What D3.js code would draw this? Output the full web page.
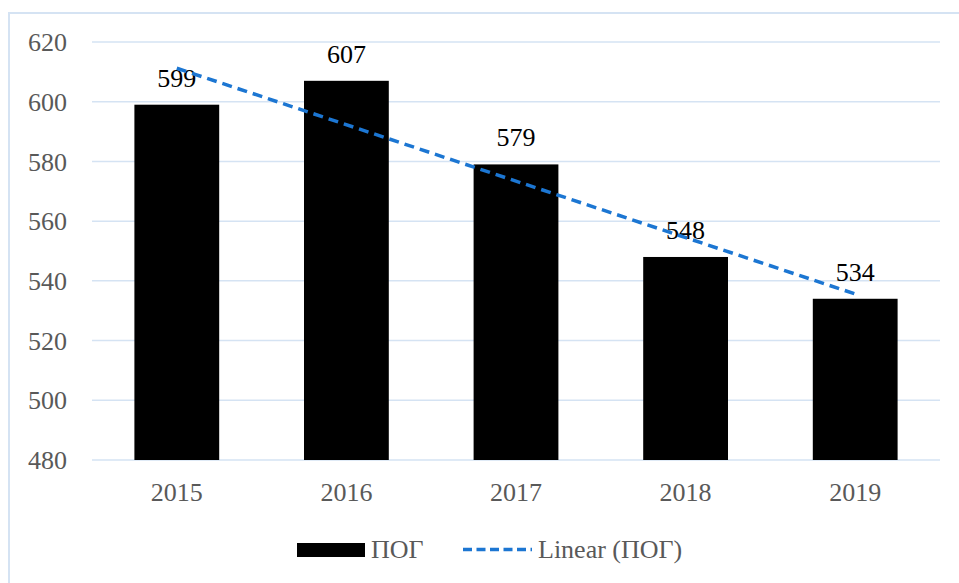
<!DOCTYPE html>
<html>
<head>
<meta charset="utf-8">
<script src="https://cdn.jsdelivr.net/npm/d3@7/dist/d3.min.js"></script>
<style>
  html, body { margin: 0; padding: 0; background: #ffffff; }
  svg { display: block; }
</style>
</head>
<body>
<svg id="chart" width="959" height="583"></svg>
<script>
const categories = ["2015", "2016", "2017", "2018", "2019"];
const values = [599, 607, 579, 548, 534];
const yTicks = [480, 500, 520, 540, 560, 580, 600, 620];
const seriesName = "ПОГ";
const trendName = "Linear (ПОГ)";

const svg = d3.select("#chart");
const W = 959, H = 583;
const plot = { left: 92, right: 940, top: 42, bottom: 460 };
const font = '"Liberation Serif", "Times New Roman", serif';
const gridColor = "#d5e3f3";
const textGray = "#595959";
const trendColor = "#1c76d2";

// chart border (only left and top visible in the picture)
svg.append("rect")
  .attr("x", 9).attr("y", 13)
  .attr("width", W + 20).attr("height", H + 20)
  .attr("fill", "none")
  .attr("stroke", gridColor)
  .attr("stroke-width", 2);

const x = d3.scaleBand().domain(categories)
  .range([plot.left, plot.right]).paddingInner(0.5).paddingOuter(0.25);
const y = d3.scaleLinear().domain([480, 620]).range([plot.bottom, plot.top]);

// gridlines
svg.append("g").selectAll("line").data(yTicks).join("line")
  .attr("x1", plot.left).attr("x2", plot.right)
  .attr("y1", d => y(d)).attr("y2", d => y(d))
  .attr("stroke", gridColor).attr("stroke-width", 1.5);

// y axis
const yAxis = svg.append("g")
  .attr("transform", `translate(${plot.left - 25},0)`)
  .call(d3.axisLeft(y).tickValues(yTicks).tickSize(0).tickPadding(0));
yAxis.select(".domain").remove();
yAxis.selectAll("text")
  .style("font-family", font).style("font-size", "26px").attr("fill", textGray)
  .attr("dy", "0.33em");

// x axis
const xAxis = svg.append("g")
  .attr("transform", `translate(0,${plot.bottom})`)
  .call(d3.axisBottom(x).tickSize(0).tickPadding(0));
xAxis.select(".domain").remove();
xAxis.selectAll("text")
  .style("font-family", font).style("font-size", "26px").attr("fill", textGray)
  .attr("dy", 0).attr("y", 41);

// bars
svg.append("g").selectAll("rect").data(values).join("rect")
  .attr("x", (d, i) => x(categories[i]))
  .attr("width", x.bandwidth())
  .attr("y", d => y(d))
  .attr("height", d => y(480) - y(d))
  .attr("fill", "#000000");

// data labels
svg.append("g").selectAll("text").data(values).join("text")
  .attr("x", (d, i) => x(categories[i]) + x.bandwidth() / 2)
  .attr("y", d => y(d) - 18)
  .attr("text-anchor", "middle")
  .style("font-family", font).style("font-size", "26px").attr("fill", "#000")
  .text(d => d);

// linear trendline (least squares over the series)
const n = values.length;
const xs = values.map((d, i) => i + 1);
const mx = d3.mean(xs), my = d3.mean(values);
const slope = d3.sum(xs.map((xv, i) => (xv - mx) * (values[i] - my))) /
              d3.sum(xs.map(xv => (xv - mx) ** 2));
const icpt = my - slope * mx;
const trend = [xs[0], xs[n - 1]].map(xv => ({ c: categories[xv - 1], v: icpt + slope * xv }));
svg.append("path")
  .datum(trend)
  .attr("d", d3.line().x(d => x(d.c) + x.bandwidth() / 2).y(d => y(d.v)))
  .attr("fill", "none")
  .attr("stroke", trendColor)
  .attr("stroke-width", 3.5)
  .attr("stroke-dasharray", "10,6");

// legend
const lg = svg.append("g");
lg.append("rect").attr("x", 297).attr("y", 543).attr("width", 68).attr("height", 14).attr("fill", "#000");
lg.append("text").attr("x", 371).attr("y", 558)
  .style("font-family", font).style("font-size", "26px").attr("fill", textGray).text(seriesName);
lg.append("line").attr("x1", 463).attr("x2", 532).attr("y1", 549.5).attr("y2", 549.5)
  .attr("stroke", trendColor).attr("stroke-width", 3.5).attr("stroke-dasharray", "9,4.5");
lg.append("text").attr("x", 538).attr("y", 558)
  .style("font-family", font).style("font-size", "26px").attr("fill", textGray).text(trendName);
</script>
</body>
</html>
